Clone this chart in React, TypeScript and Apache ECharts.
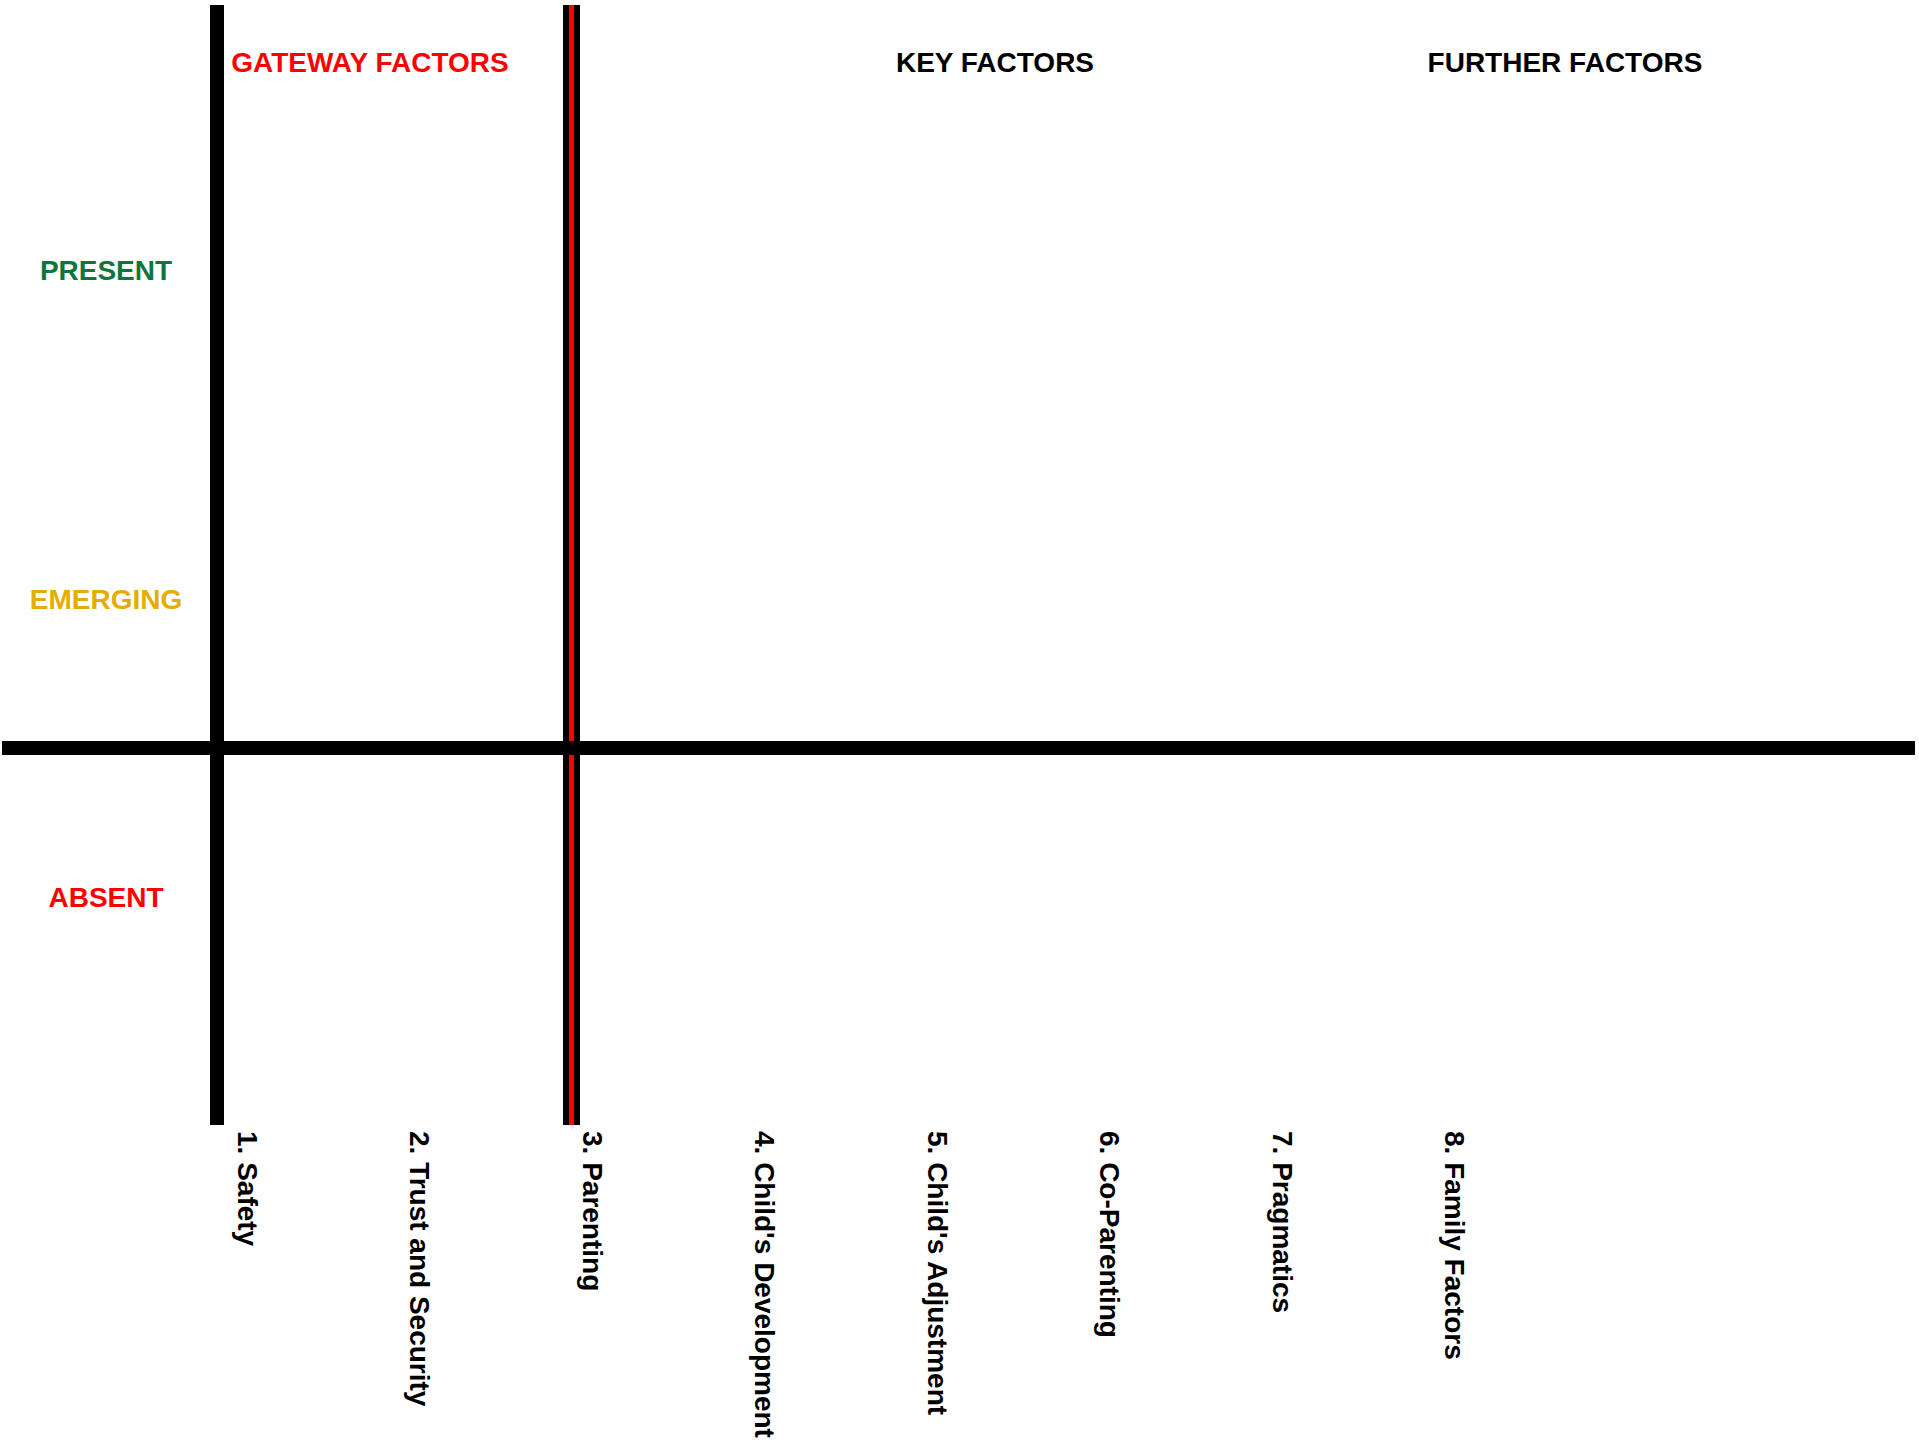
import React, { useEffect, useRef } from "react";
import * as echarts from "echarts";

// Factors along the bottom (x positions in factor units)
const factorLabels = [
  "1. Safety",
  "2. Trust and Security",
  "3. Parenting",
  "4. Child's Development",
  "5. Child's Adjustment",
  "6. Co-Parenting",
  "7. Pragmatics",
  "8. Family Factors",
];
const factorPositions = [1, 2, 3, 4, 5, 6, 7, 8];

// Levels on the left
const levelLabels = ["ABSENT", "EMERGING", "PRESENT"];
const levelPositions = [-1, 1, 3.21];
const levelColors = ["#ff0000", "#e5ad00", "#0e763a"];

// Group headers on top
const groupLabels = ["GATEWAY FACTORS", "KEY FACTORS", "FURTHER FACTORS"];
const groupPositions = [1.711, 5.334, 8.638];
const groupColors = ["#ff0000", "#000000", "#000000"];

// Divider lines
const leftBoundary = 0.818;
const gatewayBoundary = 2.885;
const baselineLevel = 0;

const FONT = "Liberation Sans";

export default function App() {
  const ref = useRef<HTMLDivElement>(null);
  useEffect(() => {
    if (!ref.current) return;
    const chart = echarts.init(ref.current, undefined, { renderer: "svg" });
    const findIdx = (arr: number[], v: number) => {
      let best = 0;
      for (let i = 0; i < arr.length; i++) {
        if (Math.abs(arr[i] - v) < Math.abs(arr[best] - v)) best = i;
      }
      return best;
    };
    chart.setOption({
      animation: false,
      backgroundColor: "#ffffff",
      grid: { left: 2, right: 4, top: 5, bottom: 322, containLabel: false },
      xAxis: [
        {
          type: "value",
          position: "bottom",
          min: -0.422,
          max: 10.667,
          axisLine: { show: false, onZero: false },
          axisTick: { show: false },
          splitLine: { show: false },
          axisLabel: {
            customValues: factorPositions,
            formatter: (v: number) => factorLabels[findIdx(factorPositions, v)],
            rotate: -90,
            margin: 6,
            fontFamily: FONT,
            fontWeight: "bold",
            fontSize: 28,
            color: "#000000",
          },
        },
        {
          type: "value",
          position: "top",
          min: -0.422,
          max: 10.667,
          axisLine: { show: false, onZero: false },
          axisTick: { show: false },
          splitLine: { show: false },
          axisLabel: {
            customValues: groupPositions,
            formatter: (v: number) => groupLabels[findIdx(groupPositions, v)],
            inside: true,
            margin: 57,
            verticalAlign: "middle",
            fontFamily: FONT,
            fontWeight: "bold",
            fontSize: 28,
            color: (v: number) => groupColors[findIdx(groupPositions, v)],
          },
        },
      ],
      yAxis: {
        type: "value",
        min: -2.53,
        max: 4.99,
        axisLine: { show: false, onZero: false },
        axisTick: { show: false },
        splitLine: { show: false },
        axisLabel: {
          customValues: levelPositions,
          formatter: (v: number) => levelLabels[findIdx(levelPositions, v)],
          inside: true,
          align: "center",
          margin: 104,
          fontFamily: FONT,
          fontWeight: "bold",
          fontSize: 28,
          color: (v: number) => levelColors[findIdx(levelPositions, v)],
        },
      },
      series: [
        {
          type: "line",
          data: [],
          silent: true,
          z: 2,
          markLine: {
            silent: true,
            symbol: ["none", "none"],
            label: { show: false },
            lineStyle: { color: "#000000", width: 14, type: "solid" },
            data: [
              { xAxis: leftBoundary, lineStyle: { width: 14, color: "#000000", type: "solid" } },
              { xAxis: gatewayBoundary, lineStyle: { width: 17, color: "#000000", type: "solid" } },
            ],
          },
        },
        {
          type: "line",
          data: [],
          silent: true,
          z: 3,
          markLine: {
            silent: true,
            symbol: ["none", "none"],
            label: { show: false },
            lineStyle: { color: "#ff0000", width: 5, type: "solid" },
            data: [{ xAxis: gatewayBoundary }],
          },
        },
        {
          type: "line",
          data: [],
          silent: true,
          z: 4,
          markLine: {
            silent: true,
            symbol: ["none", "none"],
            label: { show: false },
            lineStyle: { color: "#000000", width: 14, type: "solid" },
            data: [{ yAxis: baselineLevel }],
          },
        },
      ],
    });
    return () => chart.dispose();
  }, []);
  return (
    <div
      ref={ref}
      style={{ position: "absolute", left: 0, top: 0, width: 1919, height: 1447, background: "#ffffff" }}
    />
  );
}
